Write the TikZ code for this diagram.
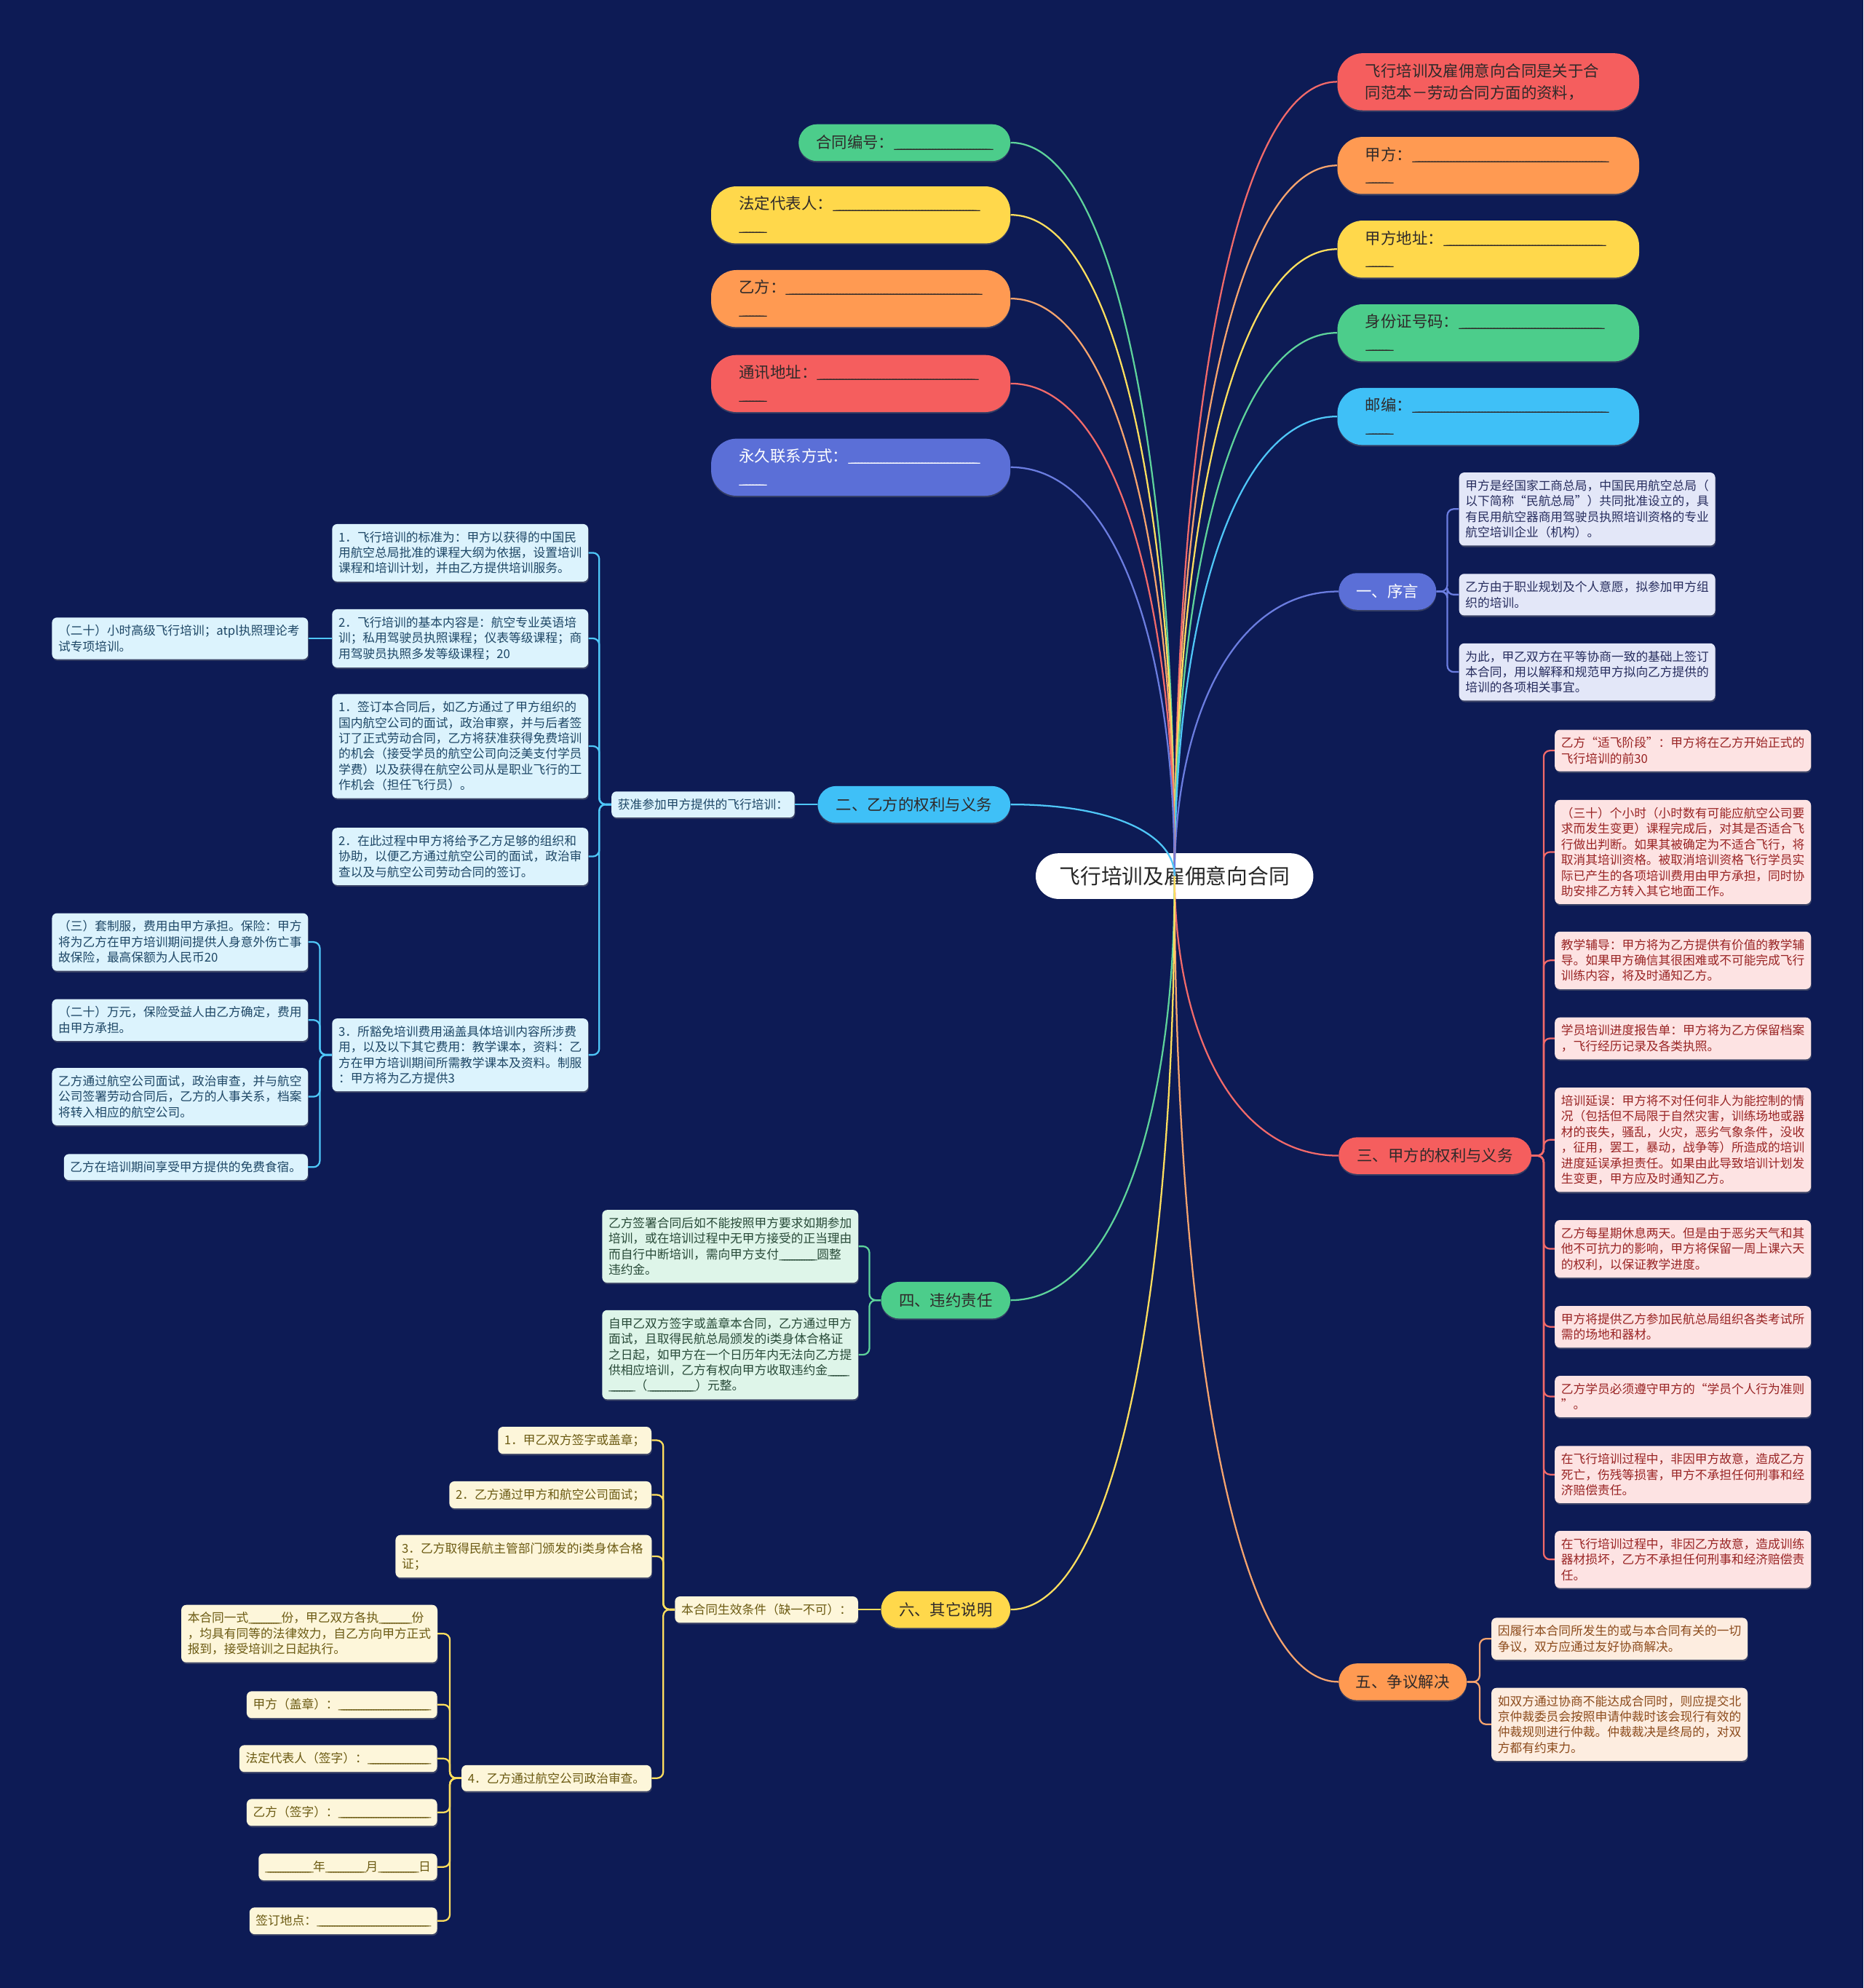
\documentclass[tikz,border=0pt]{standalone}
\usepackage{fontspec}
\setmainfont{Noto Sans CJK SC}
\usetikzlibrary{shadows}
\definecolor{bg}{HTML}{0D1B55}
\definecolor{cRed}{HTML}{F55E5E}
\definecolor{cOrange}{HTML}{FF9A52}
\definecolor{cYellow}{HTML}{FFD84B}
\definecolor{cGreen}{HTML}{4CCD8B}
\definecolor{cBlue}{HTML}{3FC0F7}
\definecolor{cPurple}{HTML}{5B6FD7}
\definecolor{tDark}{HTML}{2F2A2A}
\definecolor{fPurple}{HTML}{E3E7F8}\definecolor{tPurple}{HTML}{272D5E}
\definecolor{fBlue}{HTML}{DCF3FD}\definecolor{tBlue}{HTML}{1E4766}
\definecolor{fRed}{HTML}{FDE3E3}\definecolor{tRed}{HTML}{992424}
\definecolor{fGreen}{HTML}{DEF5E9}\definecolor{tGreen}{HTML}{284A38}
\definecolor{fOrange}{HTML}{FDEDE0}\definecolor{tOrange}{HTML}{8C4B1C}
\definecolor{fYellow}{HTML}{FDF6DA}\definecolor{tYellow}{HTML}{6B5A12}
\definecolor{lRed}{HTML}{F26A6A}
\definecolor{lOrange}{HTML}{F7A46E}
\definecolor{lYellow}{HTML}{FFDF5E}
\definecolor{lGreen}{HTML}{5ED39B}
\definecolor{lBlue}{HTML}{4FC7F8}
\definecolor{lPurple}{HTML}{6B7DE0}
\newcommand\blank[1]{\leavevmode\hbox to \dimexpr#1-0.3em\relax{\xleaders\hbox to 0.2em{\_\hss}\hfill}\hskip0.3em\relax}
\tikzset{
  rootbox/.style={rectangle, fill=white, rounded corners=18pt, minimum width=219pt, minimum height=36pt, inner sep=0pt, text=black!85, font=\fontsize{16.5}{20}\selectfont},
  bigpill/.style={rectangle, rounded corners=20pt, minimum height=45pt, text width=194pt, inner xsep=22pt, inner ysep=0pt, align=left, text=tDark, font=\fontsize{12.3}{17}\selectfont, drop shadow={opacity=0.35, shadow xshift=0pt, shadow yshift=-1.2pt}},
  bigpillL/.style={bigpill, text width=192pt},
  smallpill/.style={rectangle, rounded corners=14.5pt, minimum height=29pt, inner sep=0pt, align=center, text=tDark, font=\fontsize{12.3}{15}\selectfont, drop shadow={opacity=0.35, shadow xshift=0pt, shadow yshift=-1.2pt}},
  leafbox/.style={rectangle, rounded corners=4pt, inner xsep=5pt, inner ysep=5.8pt, align=left, font=\fontsize{9.6}{12.3}\selectfont, drop shadow={opacity=0.4, shadow xshift=0.5pt, shadow yshift=-1.2pt}},
  leafwide/.style={leafbox, text width=192pt},
  lfPurple/.style={fill=fPurple, text=tPurple},
  lfBlue/.style={fill=fBlue, text=tBlue},
  lfRed/.style={fill=fRed, text=tRed},
  lfGreen/.style={fill=fGreen, text=tGreen},
  lfOrange/.style={fill=fOrange, text=tOrange},
  lfYellow/.style={fill=fYellow, text=tYellow},
  rootlink/.style={line width=1.3pt},
  sublink/.style={line width=1.3pt, rounded corners=5pt}
}
\begin{document}
\begin{tikzpicture}[x=1pt,y=-1pt]
\fill[bg] (0,0) rectangle (1470,1568);
\useasboundingbox (0,0) rectangle (1470,1568);

% root
\node[rootbox] (root) at (926.5,691) {飞行培训及雇佣意向合同};

% top-level pills (right)
\node[bigpill, fill=cRed] (R1) at (1174,64.5) {飞行培训及雇佣意向合同是关于合\\同范本－劳动合同方面的资料，};
\node[bigpill, fill=cOrange] (R2) at (1174,130.5) {甲方：\blank{155pt}\\\blank{22pt}};
\node[bigpill, fill=cYellow] (R3) at (1174,196.5) {甲方地址：\blank{128pt}\\\blank{22pt}};
\node[bigpill, fill=cGreen] (R4) at (1174,262.5) {身份证号码：\blank{115pt}\\\blank{22pt}};
\node[bigpill, fill=cBlue] (R5) at (1174,328.5) {邮编：\blank{155pt}\\\blank{22pt}};
% top-level pills (left)
\node[smallpill, fill=cGreen, minimum width=167pt] (L1) at (713.5,112.5) {合同编号：\blank{78pt}};
\node[bigpillL, fill=cYellow] (L2) at (679,169.5) {法定代表人：\blank{116pt}\\\blank{22pt}};
\node[bigpillL, fill=cOrange] (L3) at (679,235.5) {乙方：\blank{155pt}\\\blank{22pt}};
\node[bigpillL, fill=cRed] (L4) at (679,302.5) {通讯地址：\blank{127pt}\\\blank{22pt}};
\node[bigpillL, fill=cPurple, text=white] (L5) at (679,368.5) {永久联系方式：\blank{104pt}\\\blank{22pt}};
% branch pills
\node[smallpill, fill=cPurple, text=white, minimum width=77pt] (B1) at (1094.5,466.5) {一、序言};
\node[smallpill, fill=cBlue, minimum width=152pt] (B2) at (721,634.5) {二、乙方的权利与义务};
\node[smallpill, fill=cRed, minimum width=152pt] (B3) at (1132,911.5) {三、甲方的权利与义务};
\node[smallpill, fill=cGreen, minimum width=102pt] (B4) at (746,1025.5) {四、违约责任};
\node[smallpill, fill=cOrange, minimum width=101pt] (B5) at (1106.5,1326.5) {五、争议解决};
\node[smallpill, fill=cYellow, minimum width=102pt] (B6) at (746,1269.5) {六、其它说明};

% root links
\draw[rootlink, lRed] (root.center) .. controls (927,346.4) and (971.8,64.5) .. (R1.west);
\draw[rootlink, lOrange] (root.center) .. controls (927,382.7) and (971.8,130.5) .. (R2.west);
\draw[rootlink, lYellow] (root.center) .. controls (927,419) and (971.8,196.5) .. (R3.west);
\draw[rootlink, lGreen] (root.center) .. controls (927,455.3) and (971.8,262.5) .. (R4.west);
\draw[rootlink, lBlue] (root.center) .. controls (927,491.6) and (971.8,328.5) .. (R5.west);
\draw[rootlink, lPurple] (root.center) .. controls (927,567.5) and (972.2,466.5) .. (B1.west);
\draw[rootlink, lRed] (root.center) .. controls (927,812.3) and (972.2,911.5) .. (B3.west);
\draw[rootlink, lOrange] (root.center) .. controls (927,1040.5) and (972.2,1326.5) .. (B5.west);
\draw[rootlink, lGreen] (root.center) .. controls (927,372.8) and (881.5,112.5) .. (L1.east);
\draw[rootlink, lYellow] (root.center) .. controls (927,404.2) and (881.5,169.5) .. (L2.east);
\draw[rootlink, lOrange] (root.center) .. controls (927,440.5) and (881.5,235.5) .. (L3.east);
\draw[rootlink, lRed] (root.center) .. controls (927,477.3) and (881.5,302.5) .. (L4.east);
\draw[rootlink, lPurple] (root.center) .. controls (927,513.6) and (881.5,368.5) .. (L5.east);
\draw[rootlink, lBlue] (root.center) .. controls (927,659.9) and (881.5,634.5) .. (B2.east);
\draw[rootlink, lGreen] (root.center) .. controls (927,875) and (881.5,1025.5) .. (B4.east);
\draw[rootlink, lYellow] (root.center) .. controls (927,1009.2) and (881.5,1269.5) .. (B6.east);

% ---------- 一、序言 ----------
\node[leafwide, lfPurple] (c1a) at (1252,401.5) {甲方是经国家工商总局，中国民用航空总局（\\以下简称“民航总局”）共同批准设立的，具\\有民用航空器商用驾驶员执照培训资格的专业\\航空培训企业（机构）。};
\node[leafwide, lfPurple] (c1b) at (1252,469) {乙方由于职业规划及个人意愿，拟参加甲方组\\织的培训。};
\node[leafwide, lfPurple] (c1c) at (1252,530) {为此，甲乙双方在平等协商一致的基础上签订\\本合同，用以解释和规范甲方拟向乙方提供的\\培训的各项相关事宜。};
\foreach \c in {c1a,c1b,c1c}
  \draw[sublink, lPurple] (B1.east) -- ++(8.5,0) |- (\c.west);

% ---------- 二、乙方的权利与义务 ----------
\node[leafbox, lfBlue, anchor=east] (zhun) at (627,634.5) {获准参加甲方提供的飞行培训：};
\draw[sublink, lBlue] (B2.west) -- (zhun.east);
\node[leafwide, lfBlue] (c2a) at (363,436) {1．飞行培训的标准为：甲方以获得的中国民\\用航空总局批准的课程大纲为依据，设置培训\\课程和培训计划，并由乙方提供培训服务。};
\node[leafwide, lfBlue] (c2b) at (363,503.5) {2．飞行培训的基本内容是：航空专业英语培\\训；私用驾驶员执照课程；仪表等级课程；商\\用驾驶员执照多发等级课程；20};
\node[leafwide, lfBlue] (c2c) at (363,588.5) {1．签订本合同后，如乙方通过了甲方组织的\\国内航空公司的面试，政治审察，并与后者签\\订了正式劳动合同，乙方将获准获得免费培训\\的机会（接受学员的航空公司向泛美支付学员\\学费）以及获得在航空公司从是职业飞行的工\\作机会（担任飞行员）。};
\node[leafwide, lfBlue] (c2d) at (363,675.5) {2．在此过程中甲方将给予乙方足够的组织和\\协助，以便乙方通过航空公司的面试，政治审\\查以及与航空公司劳动合同的签订。};
\node[leafwide, lfBlue] (c2e) at (363,832) {3．所豁免培训费用涵盖具体培训内容所涉费\\用，以及以下其它费用：教学课本，资料：乙\\方在甲方培训期间所需教学课本及资料。制服\\：甲方将为乙方提供3};
\foreach \c in {c2a,c2b,c2c,c2d,c2e}
  \draw[sublink, lBlue] (zhun.west) -- ++(-9.5,0) |- (\c.east);
\node[leafwide, lfBlue] (c2bx) at (142,503.5) {（二十）小时高级飞行培训；atpl执照理论考\\试专项培训。};
\draw[sublink, lBlue] (c2b.west) -- (c2bx.east);
\node[leafwide, lfBlue] (c2e1) at (142,743) {（三）套制服，费用由甲方承担。保险：甲方\\将为乙方在甲方培训期间提供人身意外伤亡事\\故保险，最高保额为人民币20};
\node[leafwide, lfBlue] (c2e2) at (142,804.5) {（二十）万元，保险受益人由乙方确定，费用\\由甲方承担。};
\node[leafwide, lfBlue] (c2e3) at (142,865) {乙方通过航空公司面试，政治审查，并与航空\\公司签署劳动合同后，乙方的人事关系，档案\\将转入相应的航空公司。};
\node[leafbox, lfBlue, anchor=east] (c2e4) at (243,920.5) {乙方在培训期间享受甲方提供的免费食宿。};
\foreach \c in {c2e1,c2e2,c2e3,c2e4}
  \draw[sublink, lBlue] (c2e.west) -- ++(-9.5,0) |- (\c.east);

% ---------- 三、甲方的权利与义务 ----------
\node[leafwide, lfRed] (c3a) at (1327.5,592) {乙方“适飞阶段”：甲方将在乙方开始正式的\\飞行培训的前30};
\node[leafwide, lfRed] (c3b) at (1327.5,672) {（三十）个小时（小时数有可能应航空公司要\\求而发生变更）课程完成后，对其是否适合飞\\行做出判断。如果其被确定为不适合飞行，将\\取消其培训资格。被取消培训资格飞行学员实\\际已产生的各项培训费用由甲方承担，同时协\\助安排乙方转入其它地面工作。};
\node[leafwide, lfRed] (c3c) at (1327.5,757.5) {教学辅导：甲方将为乙方提供有价值的教学辅\\导。如果甲方确信其很困难或不可能完成飞行\\训练内容，将及时通知乙方。};
\node[leafwide, lfRed] (c3d) at (1327.5,819) {学员培训进度报告单：甲方将为乙方保留档案\\，飞行经历记录及各类执照。};
\node[leafwide, lfRed] (c3e) at (1327.5,899) {培训延误：甲方将不对任何非人为能控制的情\\况（包括但不局限于自然灾害，训练场地或器\\材的丧失，骚乱，火灾，恶劣气象条件，没收\\，征用，罢工，暴动，战争等）所造成的培训\\进度延误承担责任。如果由此导致培训计划发\\生变更，甲方应及时通知乙方。};
\node[leafwide, lfRed] (c3f) at (1327.5,985) {乙方每星期休息两天。但是由于恶劣天气和其\\他不可抗力的影响，甲方将保留一周上课六天\\的权利，以保证教学进度。};
\node[leafwide, lfRed] (c3g) at (1327.5,1046.5) {甲方将提供乙方参加民航总局组织各类考试所\\需的场地和器材。};
\node[leafwide, lfRed] (c3h) at (1327.5,1101.5) {乙方学员必须遵守甲方的“学员个人行为准则\\”。};
\node[leafwide, lfRed] (c3i) at (1327.5,1163) {在飞行培训过程中，非因甲方故意，造成乙方\\死亡，伤残等损害，甲方不承担任何刑事和经\\济赔偿责任。};
\node[leafwide, lfRed] (c3j) at (1327.5,1230) {在飞行培训过程中，非因乙方故意，造成训练\\器材损坏，乙方不承担任何刑事和经济赔偿责\\任。};
\foreach \c in {c3a,c3b,c3c,c3d,c3e,c3f,c3g,c3h,c3i,c3j}
  \draw[sublink, lRed] (B3.east) -- ++(9.5,0) |- (\c.west);

% ---------- 四、违约责任 ----------
\node[leafwide, lfGreen] (c4a) at (576,983) {乙方签署合同后如不能按照甲方要求如期参加\\培训，或在培训过程中无甲方接受的正当理由\\而自行中断培训，需向甲方支付\blank{30pt}圆整\\违约金。};
\node[leafwide, lfGreen] (c4b) at (576,1068.5) {自甲乙双方签字或盖章本合同，乙方通过甲方\\面试，且取得民航总局颁发的i类身体合格证\\之日起，如甲方在一个日历年内无法向乙方提\\供相应培训，乙方有权向甲方收取违约金\blank{17pt}\\\blank{21pt}（\blank{38pt}）元整。};
\foreach \c in {c4a,c4b}
  \draw[sublink, lGreen] (B4.west) -- ++(-9,0) |- (\c.east);

% ---------- 五、争议解决 ----------
\node[leafwide, lfOrange] (c5a) at (1277.5,1292.5) {因履行本合同所发生的或与本合同有关的一切\\争议，双方应通过友好协商解决。};
\node[leafwide, lfOrange] (c5b) at (1277.5,1360) {如双方通过协商不能达成合同时，则应提交北\\京仲裁委员会按照申请仲裁时该会现行有效的\\仲裁规则进行仲裁。仲裁裁决是终局的，对双\\方都有约束力。};
\foreach \c in {c5a,c5b}
  \draw[sublink, lOrange] (B5.east) -- ++(10,0) |- (\c.west);

% ---------- 六、其它说明 ----------
\node[leafbox, lfYellow, anchor=east] (hx) at (677,1269.5) {本合同生效条件（缺一不可）：};
\draw[sublink, lYellow] (B6.west) -- (hx.east);
\node[leafbox, lfYellow, anchor=east] (c6a) at (514,1136) {1．甲乙双方签字或盖章；};
\node[leafbox, lfYellow, anchor=east] (c6b) at (514,1179) {2．乙方通过甲方和航空公司面试；};
\node[leafwide, lfYellow] (c6c) at (413,1227.5) {3．乙方取得民航主管部门颁发的i类身体合格\\证；};
\node[leafbox, lfYellow, anchor=east] (c6d) at (514,1402.5) {4．乙方通过航空公司政治审查。};
\foreach \c in {c6a,c6b,c6c,c6d}
  \draw[sublink, lYellow] (hx.west) -- ++(-9,0) |- (\c.east);
\node[leafwide, lfYellow] (c6d1) at (244,1288.5) {本合同一式\blank{26pt}份，甲乙双方各执\blank{26pt}份\\，均具有同等的法律效力，自乙方向甲方正式\\报到，接受培训之日起执行。};
\node[leafbox, lfYellow, anchor=east] (c6d2) at (345,1344.5) {甲方（盖章）：\blank{73pt}};
\node[leafbox, lfYellow, anchor=east] (c6d3) at (345,1387) {法定代表人（签字）：\blank{50pt}};
\node[leafbox, lfYellow, anchor=east] (c6d4) at (345,1429.5) {乙方（签字）：\blank{73pt}};
\node[leafbox, lfYellow, anchor=east] (c6d5) at (345,1472.5) {\blank{38pt}年\blank{32pt}月\blank{32pt}日};
\node[leafbox, lfYellow, anchor=east] (c6d6) at (345,1515) {签订地点：\blank{90pt}};
\foreach \c in {c6d1,c6d2,c6d3,c6d4,c6d5,c6d6}
  \draw[sublink, lYellow] (c6d.west) -- ++(-9,0) |- (\c.east);
\end{tikzpicture}
\end{document}
